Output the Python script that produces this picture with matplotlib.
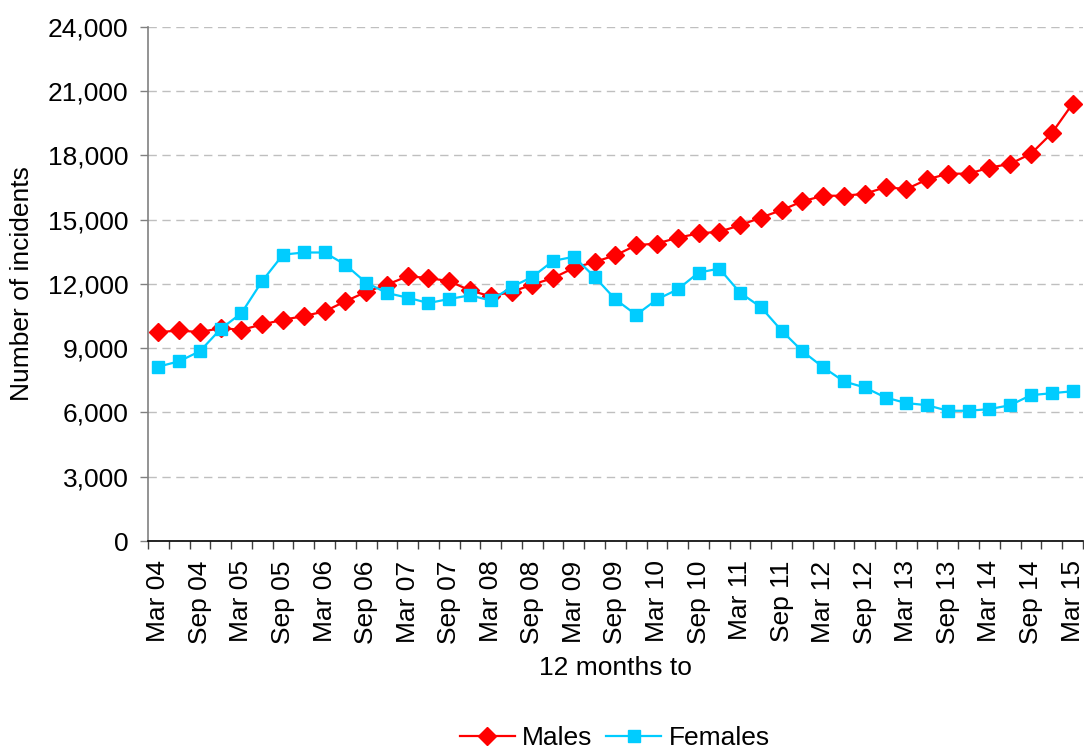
import matplotlib
matplotlib.use("Agg")
import matplotlib.pyplot as plt
from matplotlib.ticker import FuncFormatter, MultipleLocator, FixedLocator

plt.rcParams['font.family'] = ['Liberation Sans', 'DejaVu Sans']

# --- Quarterly data, 12 months to Mar 04 ... Mar 15 ---
quarters = ['Mar', 'Jun', 'Sep', 'Dec']
periods = []
for yr in range(4, 16):
    for q in quarters:
        periods.append(f"{q} {yr:02d}")
periods = periods[:45]

males = [9750, 9830, 9750, 9940, 9860, 10110, 10330, 10500, 10720, 11190,
         11630, 11970, 12360, 12280, 12130, 11700, 11420, 11630, 11970, 12280,
         12750, 13030, 13340, 13810, 13890, 14160, 14360, 14440, 14740, 15100,
         15450, 15860, 16120, 16120, 16210, 16520, 16430, 16880, 17150, 17150,
         17430, 17610, 18080, 19040, 20410]

females = [8140, 8390, 8860, 9900, 10640, 12140, 13370, 13470, 13470, 12900,
           12060, 11580, 11360, 11110, 11300, 11470, 11230, 11860, 12330, 13080,
           13270, 12330, 11280, 10560, 11280, 11750, 12530, 12720, 11590, 10920,
           9820, 8860, 8110, 7450, 7170, 6700, 6440, 6340, 6080, 6080,
           6160, 6340, 6810, 6900, 6990]

x = list(range(len(periods)))
fs = 19

fig = plt.figure(figsize=(10.84, 7.49), dpi=100)
ax = fig.add_axes([0.1365, 0.2777, 0.8625, 0.6863])

ax.plot(x, males, color='#FF0000', marker='D', markersize=9, linewidth=1.6,
        label='Males', zorder=3)
ax.plot(x, females, color='#00CCFF', marker='s', markersize=8, linewidth=1.6,
        label='Females', zorder=3)

# y axis
ax.set_ylim(0, 24000)
ax.yaxis.set_major_locator(MultipleLocator(3000))
ax.yaxis.set_major_formatter(FuncFormatter(lambda v, p: f"{int(v):,}"))
ax.grid(axis='y', color='#BFBFBF', linestyle=(0, (6, 4)), linewidth=1)
ax.set_axisbelow(True)
ax.set_ylabel('Number of incidents', fontsize=fs, labelpad=10)

# x axis: labels on every other quarter, ticks between categories
ax.set_xlim(-0.5, len(periods) - 0.5)
ax.xaxis.set_major_locator(FixedLocator(x[::2]))
ax.set_xticklabels(periods[::2], rotation=90)
ax.xaxis.set_minor_locator(FixedLocator([i - 0.5 for i in range(len(periods) + 1)]))
ax.tick_params(axis='x', which='major', length=0, pad=14, labelsize=fs)
ax.tick_params(axis='x', which='minor', length=6, width=1, color='#404040')
ax.tick_params(axis='y', length=6, width=1, color='#808080', labelsize=fs, pad=8)
ax.set_xlabel('12 months to', fontsize=fs, labelpad=9)

for s in ['top', 'right']:
    ax.spines[s].set_visible(False)
ax.spines['left'].set_color('#808080')
ax.spines['left'].set_linewidth(1.2)
ax.spines['bottom'].set_color('black')
ax.spines['bottom'].set_linewidth(1.2)

fig.legend(loc='center', bbox_to_anchor=(0.567, 0.0147), ncol=2,
           frameon=False, fontsize=fs, handlelength=2.1, columnspacing=0.5,
           handletextpad=0.27, borderpad=0)

plt.savefig('out.png', dpi=100)
